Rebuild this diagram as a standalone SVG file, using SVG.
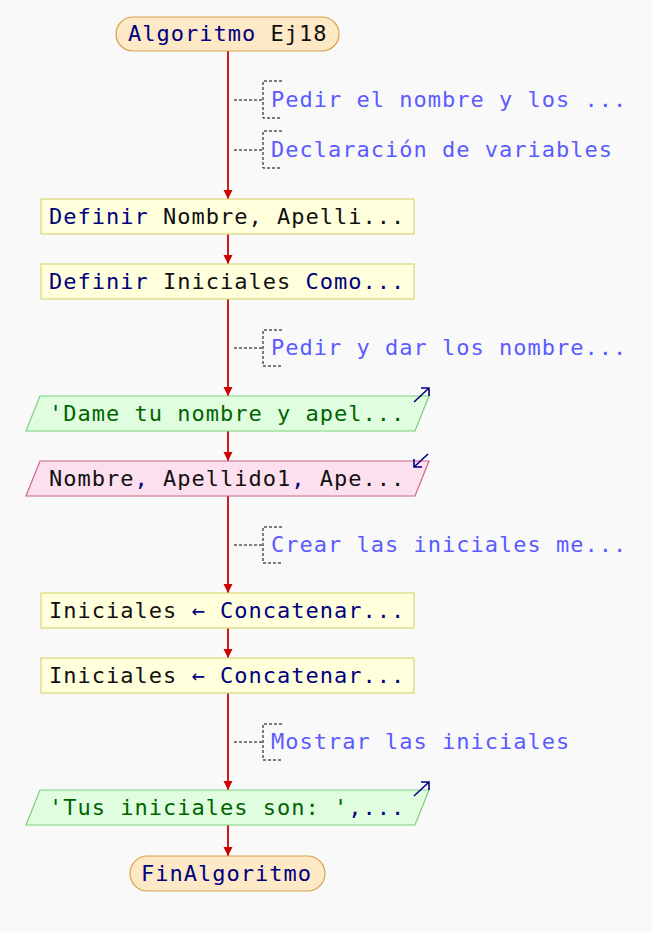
<svg xmlns="http://www.w3.org/2000/svg" width="652" height="932" viewBox="0 0 652 932">
<defs>
<style>
text{font-family:"DejaVu Sans Mono","Liberation Mono",monospace;font-size:22px;letter-spacing:1px;fill:#111}
.kw{fill:#000080}
.str{fill:#006400}
.cm{fill:#5b5bff}
.proc{fill:#ffffdc;stroke:#d6d67a;stroke-width:1.2}
.term{fill:#fde9c6;stroke:#d8a04c;stroke-width:1.2}
.out{fill:#e0fde0;stroke:#7ccf7c;stroke-width:1.2}
.in{fill:#fde0ee;stroke:#cc6688;stroke-width:1.2}
.flow{stroke:#cc0000;stroke-width:1.8;fill:none}
.dash{stroke:#000;stroke-width:1;stroke-dasharray:3 2;fill:none}
.ico{stroke:#000080;stroke-width:1.6;fill:none}
</style>
<marker id="ah" viewBox="0 0 10 10" refX="10" refY="5" markerWidth="9" markerHeight="10" orient="auto" markerUnits="userSpaceOnUse">
<path d="M0,0 L10,5 L0,10 z" fill="#cc0000"/>
</marker>
</defs>
<rect width="652" height="932" fill="#f9f9f9"/>
<g id="connectors">
<path class="flow" d="M228,51 V199" marker-end="url(#ah)"/>
<path class="flow" d="M228,234 V264" marker-end="url(#ah)"/>
<path class="flow" d="M228,299 V396" marker-end="url(#ah)"/>
<path class="flow" d="M228,431 V461" marker-end="url(#ah)"/>
<path class="flow" d="M228,496 V593" marker-end="url(#ah)"/>
<path class="flow" d="M228,628 V658" marker-end="url(#ah)"/>
<path class="flow" d="M228,693 V790" marker-end="url(#ah)"/>
<path class="flow" d="M228,825 V856" marker-end="url(#ah)"/>
</g>
<g id="start">
<rect class="term" x="116" y="17" width="223" height="34" rx="17"/>
<text x="128" y="41"><tspan class="kw">Algoritmo</tspan> Ej18</text>
</g>
<g id="c1">
<path class="dash" d="M234,100 H263 M282,81 H263 V118 H282"/>
<text class="cm" x="271" y="107">Pedir el nombre y los ...</text>
</g>
<g id="c2">
<path class="dash" d="M234,150 H263 M282,131 H263 V168 H282"/>
<text class="cm" x="271" y="157">Declaración de variables</text>
</g>
<g id="def1">
<rect class="proc" x="41" y="199" width="373" height="35"/>
<text x="49" y="224"><tspan class="kw">Definir</tspan> Nombre, Apelli...</text>
</g>
<g id="def2">
<rect class="proc" x="41" y="264" width="373" height="35"/>
<text x="49" y="289"><tspan class="kw">Definir</tspan> Iniciales <tspan class="kw">Como...</tspan></text>
</g>
<g id="c3">
<path class="dash" d="M234,348 H263 M282,330 H263 V366 H282"/>
<text class="cm" x="271" y="355">Pedir y dar los nombre...</text>
</g>
<g id="out1">
<path class="out" d="M40,396 H429 L415,431 H26 Z"/>
<path class="ico" d="M414,402 L429,388 M421,388 H429 V396"/>
<text class="str" x="49" y="421">'Dame tu nombre y apel...</text>
</g>
<g id="in1">
<path class="in" d="M40,461 H429 L415,496 H26 Z"/>
<path class="ico" d="M428,454 L414,467 M414,459 V467 H422"/>
<text x="49" y="486">Nombre<tspan class="kw">,</tspan> Apellido1<tspan class="kw">,</tspan> Ape...</text>
</g>
<g id="c4">
<path class="dash" d="M234,545 H263 M282,527 H263 V563 H282"/>
<text class="cm" x="271" y="552">Crear las iniciales me...</text>
</g>
<g id="asig1">
<rect class="proc" x="41" y="593" width="373" height="35"/>
<text x="49" y="618">Iniciales <tspan class="kw">← Concatenar...</tspan></text>
</g>
<g id="asig2">
<rect class="proc" x="41" y="658" width="373" height="35"/>
<text x="49" y="683">Iniciales <tspan class="kw">← Concatenar...</tspan></text>
</g>
<g id="c5">
<path class="dash" d="M234,742 H263 M282,724 H263 V760 H282"/>
<text class="cm" x="271" y="749">Mostrar las iniciales</text>
</g>
<g id="out2">
<path class="out" d="M40,790 H429 L415,825 H26 Z"/>
<path class="ico" d="M414,796 L429,782 M421,782 H429 V790"/>
<text x="49" y="815"><tspan class="str">'Tus iniciales son: '</tspan><tspan class="kw">,...</tspan></text>
</g>
<g id="end">
<rect class="term" x="130" y="856" width="195" height="35" rx="17.5"/>
<text class="kw" x="141" y="881">FinAlgoritmo</text>
</g>
</svg>
